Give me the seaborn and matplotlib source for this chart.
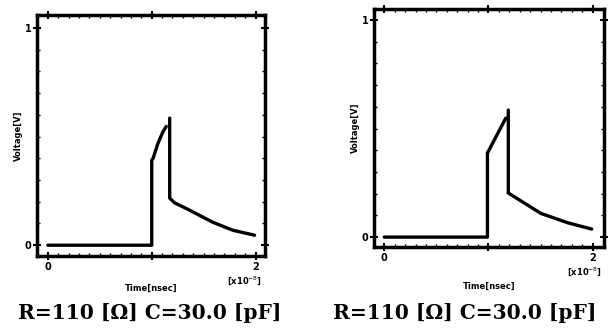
import numpy as np
import pandas as pd
import seaborn as sns
import matplotlib
matplotlib.use("Agg")
import matplotlib.pyplot as plt

# Left panel (segments separated by a small gap near the peak)
left_seg = [0, 0, 0, 0, 0, 0, 0, 1, 1, 1, 1, 1, 1, 1]
left_t = [0.0, 1.0, 1.0, 1.013, 1.06, 1.108, 1.14,
          1.173, 1.173, 1.22, 1.333, 1.587, 1.78, 1.99]
left_v = [0.0, 0.0, 0.39, 0.40, 0.469, 0.522, 0.547,
          0.585, 0.217, 0.195, 0.169, 0.106, 0.069, 0.046]

# Right panel
right_seg = [0, 0, 0, 0, 0, 1, 1, 1, 1, 1, 1]
right_t = [0.0, 0.99, 0.99, 1.166, 1.166,
           1.19, 1.19, 1.247, 1.503, 1.76, 1.99]
right_v = [0.0, 0.0, 0.387, 0.548, 0.548,
           0.585, 0.203, 0.186, 0.109, 0.066, 0.037]

x_ticks = [0, 1, 2]
x_tick_labels = ["0", "", "2"]
y_ticks = [0, 1]
y_tick_labels = ["0", "1"]
caption = "R=110 [Ω] C=30.0 [pF]"

sns.set_style("white")
plt.rcParams['font.family'] = ['DejaVu Sans']
plt.rcParams['text.color'] = 'black'
plt.rcParams['axes.labelcolor'] = 'black'
plt.rcParams['xtick.color'] = 'black'
plt.rcParams['ytick.color'] = 'black'

fig = plt.figure(figsize=(6.14, 3.33), dpi=100)
ax1 = fig.add_axes([0.060, 0.231, 0.371, 0.724])
ax2 = fig.add_axes([0.609, 0.258, 0.375, 0.714])

panels = [
    (ax1, left_seg, left_t, left_v, (-0.106, 2.087), (-0.05, 1.06), 9),
    (ax2, right_seg, right_t, right_v, (-0.099, 2.11), (-0.046, 1.049), 14),
]

for ax, seg, t, v, xl, yl, lp in panels:
    df = pd.DataFrame({"seg": seg, "t": t, "v": v})
    sns.lineplot(data=df, x="t", y="v", units="seg", estimator=None,
                 sort=False, color="black", linewidth=2.4, ax=ax)
    ax.set_xlim(*xl)
    ax.set_ylim(*yl)
    ax.set_xticks(x_ticks)
    ax.set_xticklabels(x_tick_labels, fontsize=7, fontweight="bold")
    ax.set_yticks(y_ticks)
    ax.set_yticklabels(y_tick_labels, fontsize=7, fontweight="bold")
    ax.set_xticks(np.arange(0, 2.01, 0.1), minor=True)
    ax.set_yticks(np.arange(0, 1.01, 0.1), minor=True)
    ax.tick_params(axis="both", which="major", direction="inout",
                   length=6, width=1.5, pad=1, top=True, right=True,
                   bottom=True, left=True, colors="black")
    ax.tick_params(axis="both", which="minor", direction="in",
                   length=2, width=1, top=True, right=True,
                   bottom=True, left=True, colors="black")
    for s in ax.spines.values():
        s.set_visible(True)
        s.set_color("black")
        s.set_linewidth(2.5)
    ax.set_xlabel("Time[nsec]", fontsize=6, fontweight="bold", labelpad=lp,
                  color="black")
    ax.set_ylabel("Voltage[V]", fontsize=6, fontweight="bold", labelpad=1,
                  color="black")
    ax.text(0.99, -0.075, r"[x10$^{-8}$]", transform=ax.transAxes,
            ha="right", va="top", fontsize=6, fontweight="bold", color="black")

fig.text(0.243, 0.06, caption, ha="center", va="center", fontsize=14.5,
         fontweight="bold", family=["DejaVu Serif"], color="black")
fig.text(0.757, 0.06, caption, ha="center", va="center", fontsize=14.5,
         fontweight="bold", family=["DejaVu Serif"], color="black")

fig.savefig("out.png", dpi=100)
